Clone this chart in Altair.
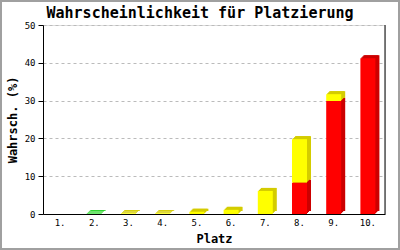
import altair as alt
import pandas as pd

places = ["1.", "2.", "3.", "4.", "5.", "6.", "7.", "8.", "9.", "10."]
red = [0, 0, 0, 0, 0, 0, 0, 8.3, 29.9, 41.2]
yellow = [0, 0, 0.2, 0.2, 0.6, 1.1, 6.1, 11.5, 1.8, 0]
green = [0, 0.15, 0, 0, 0, 0, 0, 0, 0, 0]
title_text = "Wahrscheinlichkeit für Platzierung"

segs = ["rot", "gelb", "grün"]
front_colors = ["#FF0000", "#FFFF00", "#00DD00"]
side_colors = ["#CC0000", "#D4CC00", "#00CC00"]

rows = []
for i, p in enumerate(places):
    for k, (s, vals) in enumerate(zip(segs, [red, yellow, green])):
        rows.append({"Platz": p, "seg": s, "ord": k, "val": vals[i]})
df = pd.DataFrame(rows)

FONT = "DejaVu Sans Mono"

base = alt.Chart(df)
x_enc = alt.X("Platz:N", sort=places,
              axis=alt.Axis(title="Platz", labelAngle=0, ticks=False,
                            labelFont=FONT, labelFontSize=9, labelColor="black",
                            labelPadding=4, titleFont=FONT, titleFontSize=12,
                            titleFontWeight="bold", titlePadding=6,
                            domainColor="black", grid=False))
y_enc = alt.Y("val:Q", stack="zero",
              scale=alt.Scale(domain=[0, 50], nice=False),
              axis=alt.Axis(title="Wahrsch. (%)", values=[0, 10, 20, 30, 40, 50],
                            labelFont=FONT, labelFontSize=9, labelColor="black",
                            labelPadding=3, tickColor="black", tickSize=5,
                            domainColor="black", grid=True, gridColor="#BBBBBB",
                            gridDash=[3, 3], titleFont=FONT, titleFontSize=12,
                            titleFontWeight="bold", titlePadding=5))

layers = []
for d in [4, 3, 2, 1]:
    layers.append(base.mark_bar(size=15, xOffset=d, yOffset=-min(d, 3)).encode(
        x=x_enc, y=y_enc,
        color=alt.Color("seg:N", scale=alt.Scale(domain=segs, range=side_colors), legend=None),
        order=alt.Order("ord:Q", sort="ascending"),
    ))
layers.append(base.mark_bar(size=15).encode(
    x=x_enc, y=y_enc,
    color=alt.Color("seg:N", scale=alt.Scale(domain=segs, range=front_colors), legend=None),
    order=alt.Order("ord:Q", sort="ascending"),
))

one = alt.Chart(pd.DataFrame({"t": [title_text]}))
right_line = one.mark_rule(color="black", strokeWidth=1).encode(
    x=alt.value(342), y=alt.value(0), y2=alt.value(189))
frame = one.mark_rect(fill="transparent", stroke="#A0A0A0", strokeWidth=2).encode(
    x=alt.value(-42), x2=alt.value(356), y=alt.value(-24), y2=alt.value(224))
title = one.mark_text(font=FONT, fontSize=15, fontWeight="bold", color="black",
                      align="center", baseline="middle").encode(
    text="t:N", x=alt.value(157), y=alt.value(-12))

chart = alt.layer(*layers, right_line, frame, title).resolve_scale(color="independent").properties(
    width=342, height=189,
    padding={"left": 43, "top": 25, "right": 15, "bottom": 36},
    autosize=alt.AutoSizeParams(type="none"),
).configure_view(stroke=None).configure(background="white")

chart.save("out.html", embed_options={"renderer": "svg", "actions": False})
